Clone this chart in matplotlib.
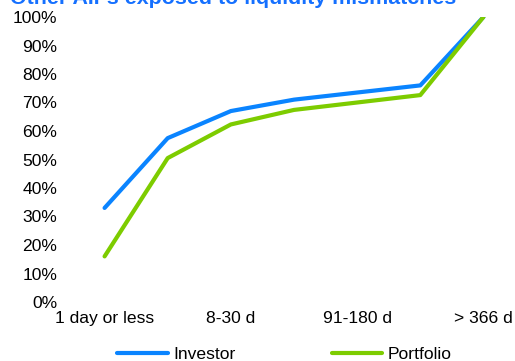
import matplotlib
matplotlib.use("Agg")
import matplotlib.pyplot as plt
from matplotlib.ticker import PercentFormatter

# maturity buckets (only every other label is shown on the axis)
buckets = ["1 day or less", "2-7 d", "8-30 d", "31-90 d", "91-180 d", "181-365 d", "> 366 d"]
investor = [0.33, 0.575, 0.67, 0.71, 0.735, 0.76, 1.00]
portfolio = [0.16, 0.505, 0.623, 0.674, 0.70, 0.726, 1.00]

blue = "#0A84FF"
green = "#7DCC00"
title_blue = "#1570FF"

plt.rcParams["font.family"] = ["Liberation Sans", "DejaVu Sans"]
plt.rcParams["font.size"] = 12.6

fig = plt.figure(figsize=(5.15, 3.61), dpi=100)
ax = fig.add_axes([73 / 515, 59 / 361, 442 / 515, 285 / 361])

x = range(len(buckets))
ax.plot(x, investor, color=blue, lw=3, label="Investor", solid_capstyle="round")
ax.plot(x, portfolio, color=green, lw=3, label="Portfolio", solid_capstyle="round")

ax.set_xlim(-0.5, len(buckets) - 0.5)
ax.set_ylim(0, 1)
ax.set_yticks([i / 10 for i in range(11)])
ax.yaxis.set_major_formatter(PercentFormatter(1.0, decimals=0))
ax.set_xticks(list(x)[::2])
ax.set_xticklabels(buckets[::2])
ax.tick_params(axis="y", length=0, pad=11.5)
ax.tick_params(axis="x", length=0, pad=6.5)
for s in ax.spines.values():
    s.set_visible(False)
for lbl in ax.get_yticklabels() + ax.get_xticklabels():
    lbl.set_clip_on(False)

# title sits partly above the top edge, as in the source image
fig.text(10 / 515, 1 - 4.5 / 361, "Other AIFs exposed to liquidity mismatches",
         color=title_blue, fontsize=15.4, fontweight="bold", va="baseline", ha="left")

fig.legend(loc="center left", bbox_to_anchor=(117 / 515, 1 - 354 / 361), ncol=2,
           frameon=False, borderpad=0, borderaxespad=0, handlelength=2.9,
           handletextpad=0.3, columnspacing=5.5)

fig.savefig("out.png", dpi=100)
